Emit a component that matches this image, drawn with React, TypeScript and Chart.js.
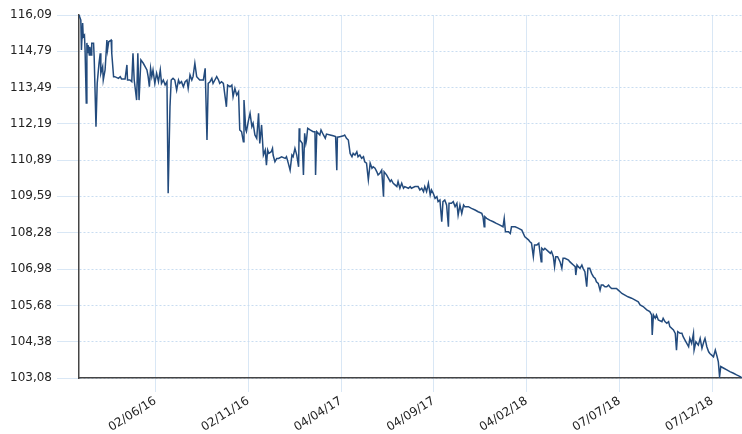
import React, { useEffect, useRef } from 'react';
import { Chart, registerables } from 'chart.js';

Chart.register(...registerables);

// Day offsets are counted from this start date
const START_DATE = '2016-01-28';

const dayOffsets = [
  0, 3, 4, 6, 7, 9, 10, 12, 13, 14, 15, 17, 18, 20, 21, 24, 25, 28, 30, 33,
  35, 36, 39, 40, 43, 46, 47, 49, 53, 54, 57, 59, 65, 68, 70, 76, 79, 80, 84, 87,
  89, 91, 95, 97, 99, 102, 106, 109, 112, 114, 116, 118, 120, 122, 125, 128, 131, 134, 136, 139,
  142, 145, 147, 150, 152, 155, 158, 161, 164, 166, 169, 172, 175, 178, 180, 183, 186, 188, 191, 194,
  199, 205, 208, 211, 213, 216, 219, 221, 224, 227, 230, 232, 235, 238, 243, 245, 249, 252, 254, 257,
  260, 263, 265, 268, 271, 272, 275, 276, 279, 282, 285, 287, 290, 293, 296, 298, 301, 304, 307, 309,
  311, 313, 317, 319, 320, 323, 326, 329, 334, 340, 342, 345, 348, 351, 353, 356, 359, 362, 363, 364,
  368, 370, 372, 374, 375, 377, 381, 386, 389, 390, 392, 397, 399, 403, 406, 408, 414, 419, 423, 425,
  426, 430, 436, 438, 441, 444, 447, 450, 452, 455, 458, 460, 463, 466, 469, 471, 474, 477, 480, 483,
  485, 488, 491, 493, 496, 499, 502, 503, 507, 510, 513, 515, 518, 521, 524, 526, 529, 532, 535, 537,
  543, 546, 548, 554, 559, 562, 565, 568, 570, 573, 576, 579, 581, 584, 587, 590, 592, 595, 598, 600,
  603, 606, 609, 610, 614, 617, 620, 623, 625, 628, 631, 634, 636, 642, 647, 653, 658, 664, 666, 668,
  669, 672, 677, 683, 688, 694, 699, 701, 703, 708, 711, 713, 719, 724, 730, 735, 741, 743, 746, 749,
  751, 755, 758, 762, 763, 766, 768, 774, 777, 779, 782, 784, 786, 789, 793, 796, 798, 801, 807, 809,
  812, 815, 818, 819, 821, 823, 826, 829, 831, 834, 837, 839, 842, 845, 848, 851, 853, 856, 859, 861,
  864, 867, 870, 873, 875, 878, 884, 886, 889, 892, 895, 900, 905, 911, 917, 922, 925, 930, 936, 941,
  944, 945, 947, 950, 952, 955, 961, 963, 966, 969, 972, 974, 980, 983, 985, 987, 991, 994, 996, 999,
  1002, 1005, 1007, 1010, 1013, 1014, 1017, 1021, 1024, 1027, 1030, 1032, 1035, 1038, 1040, 1043, 1046, 1049, 1052, 1054,
  1056, 1058, 1063, 1068, 1073, 1079, 1084, 1090, 1093,
];

const prices = [
  116.09, 115.91, 114.84, 115.80, 115.31, 115.37, 114.84, 112.94, 115.09, 114.72, 115.01, 114.66, 114.95, 114.66, 115.08, 115.08, 114.60, 112.09, 113.64, 114.36,
  114.72, 114.00, 114.24, 113.76, 114.12, 115.19, 114.84, 115.13, 115.19, 114.72, 113.88, 113.88, 113.82, 113.88, 113.80, 113.80, 114.30, 113.76, 113.76, 113.70,
  114.72, 113.76, 113.04, 114.72, 113.04, 114.48, 114.36, 114.24, 114.12, 113.88, 113.52, 114.18, 113.88, 114.12, 113.64, 114.00, 113.70, 114.12, 113.64, 113.76,
  113.58, 113.70, 109.70, 112.80, 113.76, 113.82, 113.76, 113.40, 113.76, 113.64, 113.70, 113.52, 113.70, 113.76, 113.46, 113.94, 113.76, 113.88, 114.36, 113.88,
  113.76, 113.76, 114.18, 111.61, 113.64, 113.70, 113.82, 113.64, 113.76, 113.88, 113.76, 113.64, 113.70, 113.64, 112.80, 113.58, 113.52, 113.58, 113.16, 113.46,
  113.22, 113.34, 111.97, 111.91, 111.55, 113.04, 111.97, 111.91, 112.27, 112.57, 112.09, 112.21, 111.79, 111.67, 112.57, 111.49, 112.15, 111.07, 111.25, 110.71,
  111.25, 111.13, 111.19, 111.31, 111.07, 110.83, 110.95, 110.95, 111.01, 110.95, 111.01, 110.78, 110.53, 111.07, 111.01, 111.31, 111.07, 110.65, 112.03, 111.61,
  111.49, 110.36, 111.85, 111.49, 111.61, 112.03, 111.97, 111.91, 111.91, 110.36, 111.91, 111.79, 111.97, 111.79, 111.67, 111.82, 111.79, 111.76, 111.73, 110.53,
  111.71, 111.73, 111.76, 111.79, 111.67, 111.61, 111.13, 111.01, 111.13, 111.07, 111.19, 111.01, 111.07, 110.95, 111.01, 110.83, 110.78, 110.18, 110.78, 110.60,
  110.65, 110.60, 110.47, 110.36, 110.42, 110.53, 109.58, 110.47, 110.36, 110.24, 110.12, 110.18, 110.06, 110.00, 109.94, 110.12, 109.88, 110.06, 109.88, 109.94,
  109.88, 109.94, 109.88, 109.94, 109.94, 109.82, 109.88, 109.76, 109.94, 109.76, 110.06, 109.64, 109.82, 109.70, 109.52, 109.58, 109.40, 109.46, 108.68, 109.40,
  109.46, 109.28, 108.50, 109.34, 109.34, 109.40, 109.22, 109.34, 108.92, 109.28, 108.98, 109.28, 109.22, 109.22, 109.16, 109.10, 109.04, 108.98, 108.86, 108.50,
  108.86, 108.80, 108.74, 108.68, 108.62, 108.56, 108.50, 108.80, 108.32, 108.32, 108.26, 108.50, 108.50, 108.45, 108.38, 108.14, 108.03, 107.97, 107.91, 107.43,
  107.85, 107.85, 107.91, 107.25, 107.73, 107.67, 107.73, 107.61, 107.55, 107.61, 107.43, 107.07, 107.43, 107.43, 107.25, 107.01, 107.37, 107.37, 107.31, 107.25,
  107.19, 107.13, 107.07, 106.77, 107.13, 107.07, 107.01, 107.13, 107.01, 106.89, 106.35, 107.01, 107.01, 106.83, 106.71, 106.65, 106.53, 106.47, 106.23, 106.41,
  106.41, 106.35, 106.35, 106.41, 106.35, 106.29, 106.29, 106.29, 106.23, 106.17, 106.11, 106.05, 105.99, 105.94, 105.87, 105.81, 105.70, 105.64, 105.52, 105.46,
  105.34, 104.62, 105.34, 105.22, 105.34, 105.16, 105.10, 105.22, 105.10, 105.04, 105.10, 104.92, 104.80, 104.68, 104.08, 104.74, 104.68, 104.68, 104.56, 104.44,
  104.32, 104.20, 104.50, 104.32, 104.68, 104.08, 104.38, 104.26, 104.50, 104.14, 104.38, 104.50, 104.20, 104.02, 103.96, 103.90, 103.84, 104.08, 103.84, 103.66,
  103.13, 103.49, 103.43, 103.37, 103.31, 103.25, 103.19, 103.13, 103.08,
];

const xTickDates = ['2016-06-02', '2016-11-02', '2017-04-04', '2017-09-04', '2018-02-04', '2018-07-07', '2018-12-07'];

const yTickValues = [103.08, 104.38, 105.68, 106.98, 108.28, 109.59, 110.89, 112.19, 113.49, 114.79, 116.09];

const DAY_MS = 86400000;
const startMs = Date.parse(START_DATE + 'T00:00:00Z');
const dayOf = (d: string) => Math.round((Date.parse(d + 'T00:00:00Z') - startMs) / DAY_MS);
const pad2 = (n: number) => (n < 10 ? '0' + n : '' + n);
const fmtDate = (v: number) => {
  const d = new Date(startMs + Math.round(v) * DAY_MS);
  return pad2(d.getUTCDate()) + '/' + pad2(d.getUTCMonth() + 1) + '/' + pad2(d.getUTCFullYear() % 100);
};

export default function App() {
  const ref = useRef<HTMLCanvasElement | null>(null);

  useEffect(() => {
    if (!ref.current) return;
    const font = { family: '"DejaVu Sans", Verdana, sans-serif', size: 12 };
    const chart = new Chart(ref.current, {
      type: 'line',
      data: {
        datasets: [
          {
            data: dayOffsets.map((d, i) => ({ x: d, y: prices[i] })),
            borderColor: '#234b7d',
            borderWidth: 1.5,
            pointRadius: 0,
            tension: 0,
            fill: false,
          },
        ],
      },
      options: {
        animation: false,
        responsive: false,
        layout: { padding: { top: 15, left: 0, right: 0, bottom: 0 } },
        plugins: { legend: { display: false }, tooltip: { enabled: false } },
        scales: {
          x: {
            type: 'linear',
            min: 0,
            max: dayOffsets[dayOffsets.length - 1],
            afterBuildTicks: (s: any) => {
              s.ticks = xTickDates.map((d) => ({ value: dayOf(d) }));
            },
            afterFit: (s: any) => {
              s.height = 56;
            },
            grid: { color: '#d9e7f5', lineWidth: 1, tickLength: 14, tickColor: '#d9e7f5' },
            border: { display: true, color: '#444', width: 1.5 },
            ticks: {
              autoSkip: false,
              minRotation: 32,
              maxRotation: 32,
              padding: 2,
              color: '#222',
              font,
              callback: (v: any) => fmtDate(Number(v)),
            },
          },
          y: {
            type: 'linear',
            min: yTickValues[0],
            max: yTickValues[yTickValues.length - 1],
            afterBuildTicks: (s: any) => {
              s.ticks = yTickValues.map((v) => ({ value: v }));
            },
            afterFit: (s: any) => {
              s.width = 79;
            },
            grid: { color: '#c9ddf1', lineWidth: 1, tickLength: 22, tickColor: '#d9e7f5', tickBorderDash: [] },
            border: { display: true, color: '#444', width: 1.5, dash: [2, 2] },
            ticks: {
              padding: 5,
              color: '#222',
              font,
              callback: (v: any) => Number(v).toFixed(2).replace('.', ','),
            },
          },
        },
      },
    } as any);
    return () => chart.destroy();
  }, []);

  return (
    <div style={{ position: 'absolute', left: 0, top: 0, width: 742, height: 434, background: '#fff' }}>
      <canvas ref={ref} width={742} height={434} style={{ display: 'block' }} />
    </div>
  );
}
